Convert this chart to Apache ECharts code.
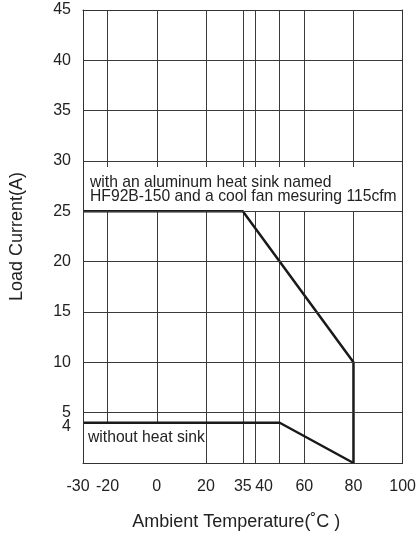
<!DOCTYPE html>
<html><head><meta charset="utf-8">
<script src="https://cdn.jsdelivr.net/npm/echarts@6/dist/echarts.min.js"></script>
<style>html,body{margin:0;padding:0;background:#fff}#c{width:419px;height:539px}</style>
</head><body><div id="c"></div>
<script>
// ---- data ----
const withSinkCurve = [[-30, 25], [35, 25], [80, 10], [80, 0]];
const noSinkCurve = [[-30, 4], [50, 4], [80, 0]];
const xTickLabels = [-30, -20, 0, 20, 35, 40, 60, 80, 100];
const yTickLabels = [5, 10, 15, 20, 25, 30, 35, 40, 45];
const yExtraTickLabels = [4];
const xGridValues = [-20, 0, 20, 35, 40, 50, 60, 80];
const withSinkNote = 'with an aluminum heat sink named\nHF92B-150 and a cool fan mesuring 115cfm';
const noSinkNote = 'without heat sink';
const withSinkNoteBox = [[-30, 25], [100, 29.4]];
const noSinkNoteBox = [[-30, 4], [19.5, 0]];

// ---- chart ----
const font = "'Liberation Sans', Arial, sans-serif";
const ink = '#222';
const gridColor = '#3a3a3a';
const chart = echarts.init(document.getElementById('c'), null, { renderer: 'canvas' });

const edgeLine = { show: true, onZero: false, lineStyle: { color: '#333', width: 1 } };
const txt = { color: ink, fontFamily: font, fontSize: 16 };
const noteTxt = { color: ink, fontFamily: font, fontSize: 15.7 };

chart.setOption({
  animation: false,
  grid: { left: 82, right: 13, top: 10, bottom: 76 },
  xAxis: [{
    type: 'value', min: -30, max: 100, position: 'bottom', z: 10,
    axisLine: edgeLine, axisTick: { show: false }, splitLine: { show: false },
    axisLabel: {
      customValues: xTickLabels, margin: 16, hideOverlap: false, ...txt,
      formatter: v => v === 40 ? '{r|40}' : (v === -30 ? '{l|-30}' : String(v)),
      rich: { r: { ...txt, padding: [0, 0, 0, 18] }, l: { ...txt, padding: [0, 10, 0, 0] } }
    },
    name: 'Ambient Temperature(˚C )', nameLocation: 'middle', nameGap: 50,
    nameTextStyle: { color: ink, fontFamily: font, fontSize: 18, padding: [0, 13, 0, 0] }
  }, {
    type: 'value', min: -30, max: 100, position: 'top', z: 10,
    axisLine: edgeLine, axisTick: { show: false }, axisLabel: { show: false }, splitLine: { show: false }
  }],
  yAxis: [{
    type: 'value', min: 0, max: 45, interval: 5, z: 10,
    axisLine: edgeLine, axisTick: { show: false },
    splitLine: { show: true, lineStyle: { color: gridColor, width: 1 } },
    axisLabel: { customValues: yTickLabels, margin: 12, hideOverlap: false, ...txt },
    name: 'Load Current(A)', nameLocation: 'middle', nameGap: 57,
    nameTextStyle: { color: ink, fontFamily: font, fontSize: 18 }
  }, {
    type: 'value', min: 0, max: 45, position: 'right', z: 10,
    axisLine: edgeLine, axisTick: { show: false }, axisLabel: { show: false }, splitLine: { show: false }
  }, {
    type: 'value', min: 0, max: 45, position: 'left', offset: 0, z: 10,
    axisLine: { show: false }, axisTick: { show: false }, splitLine: { show: false },
    axisLabel: {
      customValues: yExtraTickLabels, margin: 12, hideOverlap: false, ...txt,
      formatter: v => '{d|' + v + '}',
      rich: { d: { ...txt, padding: [7, 0, 0, 0] } }
    }
  }],
  series: [{
    type: 'line', data: [], z: 1, silent: true,
    markLine: {
      z: 1, silent: true, animation: false, symbol: ['none', 'none'], label: { show: false },
      lineStyle: { type: 'solid', color: gridColor, width: 1 },
      data: xGridValues.map(v => ({ xAxis: v }))
    }
  }, {
    type: 'line', data: [], z: 2, silent: true,
    markArea: {
      z: 2, silent: true, animation: false,
      itemStyle: { color: '#ffffff', opacity: 1, borderWidth: 0 },
      data: [
        [{ xAxis: withSinkNoteBox[0][0], yAxis: withSinkNoteBox[0][1],
           label: { show: true, position: 'insideLeft', distance: 7, formatter: withSinkNote, ...noteTxt, lineHeight: 14 } },
         { xAxis: withSinkNoteBox[1][0], yAxis: withSinkNoteBox[1][1] }],
        [{ xAxis: noSinkNoteBox[0][0], yAxis: noSinkNoteBox[0][1],
           label: { show: true, position: 'insideTopLeft', distance: 0, offset: [5, 7], formatter: noSinkNote, ...noteTxt, lineHeight: 16 } },
         { xAxis: noSinkNoteBox[1][0], yAxis: noSinkNoteBox[1][1] }]
      ]
    }
  }, {
    name: 'with heat sink', type: 'line', data: withSinkCurve, z: 3,
    symbol: 'none', lineStyle: { color: '#1a1a1a', width: 2.5 }
  }, {
    name: 'without heat sink', type: 'line', data: noSinkCurve, z: 3,
    symbol: 'none', lineStyle: { color: '#1a1a1a', width: 2.5 }
  }]
});
</script>
</body></html>
